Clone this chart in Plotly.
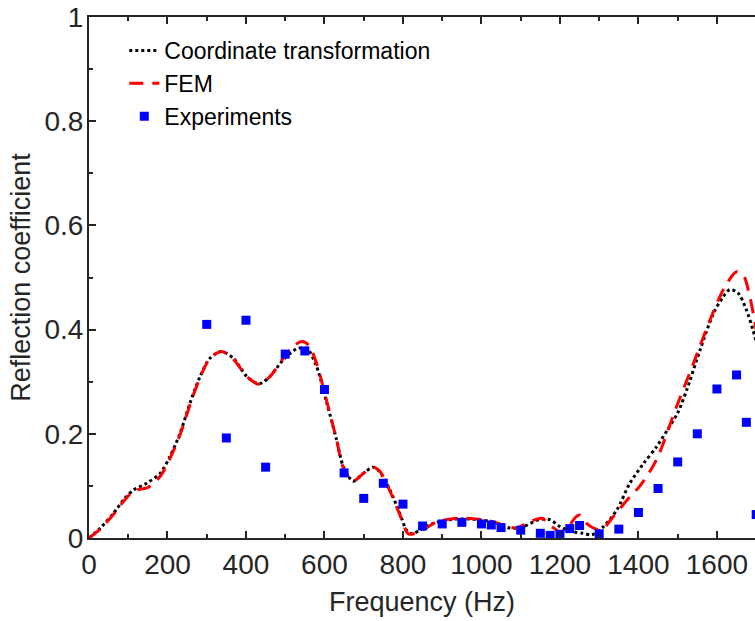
import plotly.graph_objects as go

# ---------------- data ----------------
ct_freq = [0, 30, 62, 90, 113, 147, 181, 206, 232, 257, 283, 308, 338, 368, 402, 434, 461, 495,
           529, 555, 580, 606, 631, 648, 673, 699, 724, 741, 767, 792, 809, 822, 843, 877, 928,
           979, 1030, 1073, 1107, 1149, 1175, 1200, 1234, 1259, 1281, 1311, 1345, 1378, 1413,
           1446, 1476, 1500, 1523, 1557, 1591, 1616, 1633, 1654, 1675, 1692, 1710]
ct_refl = [0, 0.02, 0.047, 0.075, 0.092, 0.105, 0.124, 0.156, 0.201, 0.258, 0.310, 0.345, 0.358,
           0.345, 0.310, 0.296, 0.310, 0.342, 0.363, 0.364, 0.329, 0.259, 0.188, 0.137, 0.109,
           0.124, 0.136, 0.127, 0.092, 0.047, 0.015, 0.008, 0.015, 0.028, 0.036, 0.036, 0.031,
           0.019, 0.022, 0.036, 0.035, 0.022, 0.012, 0.009, 0.006, 0.022, 0.054, 0.105, 0.143,
           0.175, 0.210, 0.240, 0.284, 0.361, 0.431, 0.463, 0.477, 0.470, 0.438, 0.399, 0.350]

fem_freq = [0, 30, 62, 90, 113, 126, 150, 181, 206, 232, 257, 283, 308, 338, 368, 402, 434, 461,
            495, 520, 542, 560, 580, 606, 631, 648, 673, 699, 724, 741, 767, 792, 814, 843, 886,
            945, 1005, 1056, 1089, 1115, 1153, 1179, 1200, 1220, 1240, 1251, 1268, 1293, 1311,
            1336, 1378, 1404, 1446, 1497, 1540, 1582, 1620, 1650, 1667, 1684, 1697, 1710]
fem_refl = [0, 0.018, 0.045, 0.072, 0.090, 0.093, 0.097, 0.118, 0.152, 0.198, 0.255, 0.308,
            0.345, 0.358, 0.343, 0.310, 0.295, 0.310, 0.345, 0.368, 0.377, 0.370, 0.335, 0.262,
            0.188, 0.135, 0.109, 0.124, 0.136, 0.128, 0.090, 0.045, 0.008, 0.012, 0.031, 0.038,
            0.035, 0.025, 0.019, 0.028, 0.038, 0.022, 0.012, 0.020, 0.040, 0.044, 0.028, 0.017,
            0.019, 0.041, 0.079, 0.100, 0.150, 0.252, 0.335, 0.418, 0.482, 0.511, 0.505, 0.463,
            0.412, 0.360]

exp_freq = [300, 350, 400, 450, 500, 550, 600, 650, 700, 750, 800, 850, 900, 950, 1000, 1025,
            1050, 1100, 1150, 1175, 1200, 1225, 1250, 1300, 1350, 1400, 1450, 1500, 1550, 1600,
            1650, 1675, 1700]
exp_refl = [0.410, 0.192, 0.418, 0.136, 0.353, 0.359, 0.285, 0.125, 0.076, 0.105, 0.065, 0.023,
            0.027, 0.030, 0.027, 0.025, 0.020, 0.015, 0.009, 0.005, 0.007, 0.018, 0.024, 0.008,
            0.017, 0.049, 0.095, 0.146, 0.200, 0.286, 0.313, 0.222, 0.045]

x_ticks = [0, 200, 400, 600, 800, 1000, 1200, 1400, 1600]
y_ticks = [0, 0.2, 0.4, 0.6, 0.8, 1]
y_tick_text = ["0", "0.2", "0.4", "0.6", "0.8", "1"]
x_title = "Frequency (Hz)"
y_title = "Reflection coefficient"

FONT = "Liberation Sans, Arial, Helvetica, sans-serif"
AX = "#262626"

fig = go.Figure()
fig.add_trace(go.Scatter(x=ct_freq, y=ct_refl, mode="lines", name="Coordinate transformation",
                         line=dict(color="black", width=3, dash="dot", shape="spline", smoothing=0.8)))
fig.add_trace(go.Scatter(x=fem_freq, y=fem_refl, mode="lines", name="FEM",
                         line=dict(color="red", width=3, dash="14px,9px", shape="spline", smoothing=0.8)))
fig.add_trace(go.Scatter(x=exp_freq, y=exp_refl, mode="markers", name="Experiments",
                         marker=dict(symbol="square", color="blue", size=9, line=dict(width=0))))

fig.update_layout(
    width=755, height=621,
    margin=dict(l=89, r=0, t=17, b=83),
    plot_bgcolor="white", paper_bgcolor="white",
    font=dict(family=FONT, color=AX, size=27),
    showlegend=True,
    legend=dict(x=0.053, y=0.977, xanchor="left", yanchor="top",
                bgcolor="rgba(0,0,0,0)", borderwidth=0,
                font=dict(size=23, color="black"), tracegroupgap=0),
    xaxis=dict(range=[0, 1697], tickvals=x_ticks, ticks="inside", ticklen=7, tickwidth=1.8,
               tickcolor=AX, showline=True, linecolor=AX, linewidth=2, mirror="ticks",
               showgrid=False, zeroline=False, ticklabelstandoff=0,
               minor=dict(dtick=100, ticks="inside", ticklen=4, tickwidth=1.5, tickcolor=AX, showgrid=False),
               tickfont=dict(size=28, color=AX)),
    yaxis=dict(range=[0, 1], tickvals=y_ticks, ticktext=y_tick_text, ticks="inside", ticklen=7,
               tickwidth=1.8, tickcolor=AX, showline=True, linecolor=AX, linewidth=2, mirror=False,
               showgrid=False, zeroline=False, ticklabelstandoff=-2,
               minor=dict(dtick=0.1, ticks="inside", ticklen=4, tickwidth=1.5, tickcolor=AX, showgrid=False),
               title=dict(text=y_title, font=dict(size=27, color=AX), standoff=6),
               tickfont=dict(size=28, color=AX)),
    yaxis2=dict(range=[0, 1], overlaying="y", side="right", tickvals=y_ticks, ticks="inside",
                ticklen=7, tickwidth=1.8, tickcolor=AX, showline=False, showticklabels=False,
                showgrid=False, zeroline=False,
                minor=dict(dtick=0.1, ticks="inside", ticklen=4, tickwidth=1.5, tickcolor=AX, showgrid=False)),
    annotations=[dict(text=x_title, xref="paper", yref="paper", x=0.5, y=-0.123,
                      xanchor="center", yanchor="middle", showarrow=False,
                      font=dict(size=27, color=AX))],
)

fig.write_html("out.html", config={"displayModeBar": False},
               post_script="document.body.style.margin='0px';")
